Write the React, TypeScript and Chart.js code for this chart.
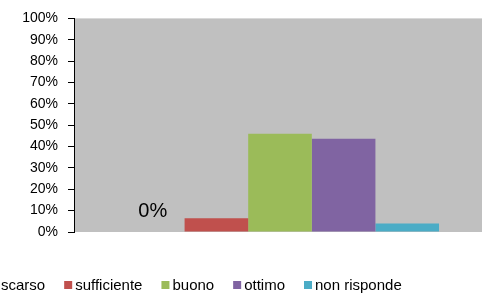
import React, { useEffect, useRef } from 'react';
import { Chart, registerables } from 'chart.js';

Chart.register(...registerables);

const categories = [''];
const seriesNames = ['scarso', 'sufficiente', 'buono', 'ottimo', 'non risponde'];
const seriesValues = [0, 6.4, 46.0, 43.6, 4.0];
const seriesColors = ['#4F81BD', '#C0504D', '#9BBB59', '#8064A2', '#4BACC6'];
const labeledSeries = ['scarso'];
const yMin = 0;
const yMax = 100;
const yStep = 10;

const FONT = "'Liberation Sans', Arial, sans-serif";

const plotBackground = {
  id: 'plotBackground',
  beforeDraw(chart: any) {
    const { ctx, chartArea } = chart;
    ctx.save();
    ctx.fillStyle = '#C0C0C0';
    ctx.fillRect(chartArea.left, chartArea.top, chartArea.right - chartArea.left, chartArea.bottom - chartArea.top);
    ctx.restore();
  },
};

const valueLabels = {
  id: 'valueLabels',
  afterDatasetsDraw(chart: any) {
    const { ctx } = chart;
    ctx.save();
    ctx.font = `20px ${FONT}`;
    ctx.fillStyle = '#000';
    ctx.textAlign = 'center';
    ctx.textBaseline = 'alphabetic';
    chart.data.datasets.forEach((ds: any, i: number) => {
      if (!labeledSeries.includes(ds.label)) return;
      const meta = chart.getDatasetMeta(i);
      meta.data.forEach((bar: any, j: number) => {
        ctx.fillText(`${ds.data[j]}%`, bar.x, bar.y - 15);
      });
    });
    ctx.restore();
  },
};

const customLegend = {
  id: 'customLegend',
  afterDraw(chart: any) {
    const { ctx } = chart;
    ctx.save();
    ctx.font = `15px ${FONT}`;
    ctx.textBaseline = 'alphabetic';
    ctx.textAlign = 'left';
    let x = -10;
    const boxY = 281;
    const textY = 290;
    chart.data.datasets.forEach((ds: any) => {
      ctx.fillStyle = ds.backgroundColor;
      ctx.fillRect(x, boxY, 8, 8);
      ctx.fillStyle = '#000';
      const tx = x + 11;
      ctx.fillText(ds.label, tx, textY);
      x = tx + ctx.measureText(ds.label).width + 19;
    });
    ctx.restore();
  },
};

export default function App() {
  const canvasRef = useRef<HTMLCanvasElement | null>(null);

  useEffect(() => {
    if (!canvasRef.current) return;
    const chart = new Chart(canvasRef.current, {
      type: 'bar',
      data: {
        labels: categories,
        datasets: seriesNames.map((name, i) => ({
          label: name,
          data: [seriesValues[i]],
          backgroundColor: seriesColors[i],
          borderWidth: 0,
          categoryPercentage: 0.772,
          barPercentage: 1,
        })),
      },
      options: {
        animation: false,
        responsive: false,
        devicePixelRatio: 1,
        layout: { padding: { left: 0, right: 4, top: 17, bottom: 64 } },
        plugins: {
          legend: { display: false },
          tooltip: { enabled: false },
        },
        scales: {
          x: { display: false },
          y: {
            min: yMin,
            max: yMax,
            ticks: {
              stepSize: yStep,
              callback: (v: any) => `${v}%`,
              color: '#000',
              font: { family: FONT, size: 14 },
              padding: 10,
            },
            grid: {
              display: true,
              drawOnChartArea: false,
              drawTicks: true,
              tickLength: 6,
              color: '#000',
            },
            border: { display: true, color: '#000', width: 1 },
            afterFit: (s: any) => {
              s.width = 74;
            },
          },
        },
      },
      plugins: [plotBackground, valueLabels, customLegend],
    } as any);
    return () => chart.destroy();
  }, []);

  return (
    <div style={{ position: 'fixed', left: 0, top: 0, width: 482, height: 296, overflow: 'hidden', background: '#fff' }}>
      <div style={{ position: 'absolute', left: 0, top: 0, width: 490, height: 296 }}>
        <canvas ref={canvasRef} width={490} height={296} style={{ display: 'block' }} />
      </div>
    </div>
  );
}
